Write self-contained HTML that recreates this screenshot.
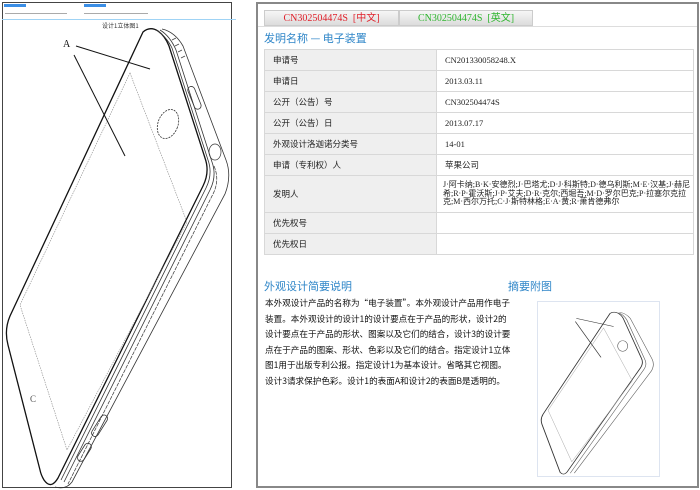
<!DOCTYPE html>
<html><head><meta charset="utf-8">
<style>
*{margin:0;padding:0;box-sizing:border-box}
body{width:700px;height:490px;background:#fff;position:relative;overflow:hidden;font-family:"Liberation Serif","Noto Sans CJK SC",serif;font-size:9px;color:#222}
.abs{position:absolute}
#right{left:256px;top:2px;width:443px;height:486px;border:2px solid #888}
.tab{position:absolute;top:6px;height:16px;background:linear-gradient(#f6f6f6,#dcdcdc);border:1px solid #ccc;font-size:10px;text-align:center;line-height:15px}
table{border-collapse:collapse;position:absolute;left:6px;top:45px;width:430px}
td{border:1px solid #d8d8d8;height:21px;padding-left:8px;font-size:8.5px;vertical-align:middle}
td.l{background:#efefef;width:172px}
.h{color:#2f86c8;font-size:11px;font-family:"Noto Sans CJK SC",sans-serif}
.p{font-size:8.6px;line-height:15.6px;width:246px;font-family:"Noto Sans CJK SC",sans-serif;color:#111}
</style></head><body>
<div class="abs" style="left:2px;top:2px;width:230px;height:486px;border:1.5px solid #444"></div>
<div class="abs" style="left:2px;top:19px;width:234px;height:1px;background:#9fd3f5"></div>
<div class="abs" style="left:4px;top:4px;width:22px;height:3px;background:#3a8ee6"></div>
<div class="abs" style="left:84px;top:4px;width:22px;height:3px;background:#3a8ee6"></div>
<div class="abs" style="left:5px;top:13px;width:62px;height:1px;background:#aaa"></div>
<div class="abs" style="left:84px;top:13px;width:64px;height:1px;background:#aaa"></div>
<svg class="abs" style="left:0;top:0" width="240" height="490" viewBox="0 0 240 490">
<text x="102" y="28" font-size="6" fill="#333" font-family="Noto Sans CJK SC">设计1立体图1</text>
<!-- front face -->
<path d="M143,32 Q150,26 158,31 Q165,36 169,46 L205,158 Q210,172 203,186 L58,478 Q51,490 44,480 Q41,475 40,470 L8,345 Q4,330 10,316 Z" fill="none" stroke="#111" stroke-width="1.3"/>
<!-- inner parallel edges -->
<path d="M156,30 Q166,36 172,48 L208,160 Q213,174 206,188 L61,480" fill="none" stroke="#333" stroke-width="0.8"/>
<path d="M160,30 Q170,36 176,50 L212,162 Q217,176 210,190 L64,482" fill="none" stroke="#333" stroke-width="0.8"/>
<!-- side band -->
<path d="M162,29 Q175,32 183,46 L226,160 Q232,176 225,194 L72,482 Q66,490 55,487" fill="none" stroke="#333" stroke-width="0.8"/>
<path d="M214,166 Q220,180 213,194 L68,484" fill="none" stroke="#333" stroke-width="0.7" stroke-dasharray="4,1"/>
<!-- screen -->
<path d="M130,73 L187,222 L67,450 L20,305 Z" fill="none" stroke="#888" stroke-width="0.6" stroke-dasharray="1.5,1"/>
<ellipse cx="168" cy="124" rx="10" ry="15" transform="rotate(20 168 124)" fill="none" stroke="#333" stroke-width="0.8" stroke-dasharray="2,1"/>
<rect x="191" y="86" width="7" height="24" rx="3.5" transform="rotate(-22 194 98)" fill="none" stroke="#333" stroke-width="0.8"/>
<path d="M172,40 l4,-2 M175,46 l4,-2 M178,52 l4,-2 M181,58 l4,-2" stroke="#444" stroke-width="0.8"/>
<ellipse cx="215" cy="152" rx="6" ry="8" fill="none" stroke="#333" stroke-width="0.7"/>
<rect x="96" y="414" width="7" height="24" rx="3.5" transform="rotate(32 100 426)" fill="none" stroke="#333" stroke-width="0.8"/>
<rect x="81" y="442" width="7" height="20" rx="3.5" transform="rotate(32 84 452)" fill="none" stroke="#333" stroke-width="0.8"/>
<line x1="76" y1="46" x2="150" y2="69" stroke="#111" stroke-width="1"/>
<line x1="74" y1="55" x2="125" y2="156" stroke="#111" stroke-width="1"/>
<text x="63" y="47" font-size="10" fill="#111" font-family="Liberation Serif">A</text>
<text x="30" y="402" font-size="9" fill="#555" font-family="Liberation Serif">C</text>
</svg>

<div id="right" class="abs">
<div class="tab" style="left:6px;width:135px;color:#e0202a">CN302504474S&nbsp;&nbsp;[中文]</div>
<div class="tab" style="left:141px;width:134px;color:#2fb52f">CN302504474S&nbsp;&nbsp;[英文]</div>
<div class="abs" style="left:0;top:22px;width:439px;height:1px;background:#ddd"></div>
<div class="abs h" style="left:6px;top:26px">发明名称 — 电子装置</div>
<table>
<tr><td class="l">申请号</td><td>CN201330058248.X</td></tr>
<tr><td class="l">申请日</td><td>2013.03.11</td></tr>
<tr><td class="l">公开（公告）号</td><td>CN302504474S</td></tr>
<tr><td class="l">公开（公告）日</td><td>2013.07.17</td></tr>
<tr><td class="l">外观设计洛迦诺分类号</td><td>14-01</td></tr>
<tr><td class="l">申请（专利权）人</td><td>苹果公司</td></tr>
<tr><td class="l" style="height:37px">发明人</td><td style="font-size:8px;line-height:8.6px;padding-left:6px">J·阿卡纳;B·K·安德烈;J·巴塔尤;D·J·科斯特;D·德乌利斯;M·E·汉基;J·赫尼希;R·P·霍沃斯;J·P·艾夫;D·R·克尔;西堀吾;M·D·罗尔巴克;P·拉塞尔克拉克;M·西尔万托;C·J·斯特林格;E·A·黄;R·萧肯德弗尔</td></tr>
<tr><td class="l">优先权号</td><td></td></tr>
<tr><td class="l">优先权日</td><td></td></tr>
</table>
<div class="abs h" style="left:6px;top:274px">外观设计简要说明</div>
<div class="abs p" style="left:7px;top:292px">本外观设计产品的名称为“电子装置”。本外观设计产品用作电子装置。本外观设计的设计1的设计要点在于产品的形状，设计2的设计要点在于产品的形状、图案以及它们的结合，设计3的设计要点在于产品的图案、形状、色彩以及它们的结合。指定设计1立体图1用于出版专利公报。指定设计1为基本设计。省略其它视图。设计3请求保护色彩。设计1的表面A和设计2的表面B是透明的。</div>
<div class="abs h" style="left:250px;top:274px">摘要附图</div>
<div class="abs" style="left:279px;top:297px;width:123px;height:176px;border:1px solid #dde4f0">
<svg width="121" height="174" viewBox="0 0 240 490" preserveAspectRatio="none">
<path d="M143,32 Q150,26 158,31 Q165,36 169,46 L205,158 Q210,172 203,186 L58,478 Q51,490 44,480 L8,345 Q4,330 10,316 Z" fill="none" stroke="#333" stroke-width="1.8"/>
<path d="M160,30 Q170,36 176,50 L212,162 Q217,176 210,190 L64,482 M162,29 Q175,32 183,46 L226,160 Q232,176 225,194 L72,482" fill="none" stroke="#555" stroke-width="1.2"/>
<path d="M130,73 L187,222 L67,450 L20,305 Z" fill="none" stroke="#aaa" stroke-width="1"/>
<ellipse cx="168" cy="124" rx="10" ry="15" fill="none" stroke="#555" stroke-width="1.2"/>
<line x1="76" y1="46" x2="150" y2="69" stroke="#333" stroke-width="1.5"/>
<line x1="74" y1="55" x2="125" y2="156" stroke="#333" stroke-width="1.5"/>
</svg></div>
</div>
</body></html>
